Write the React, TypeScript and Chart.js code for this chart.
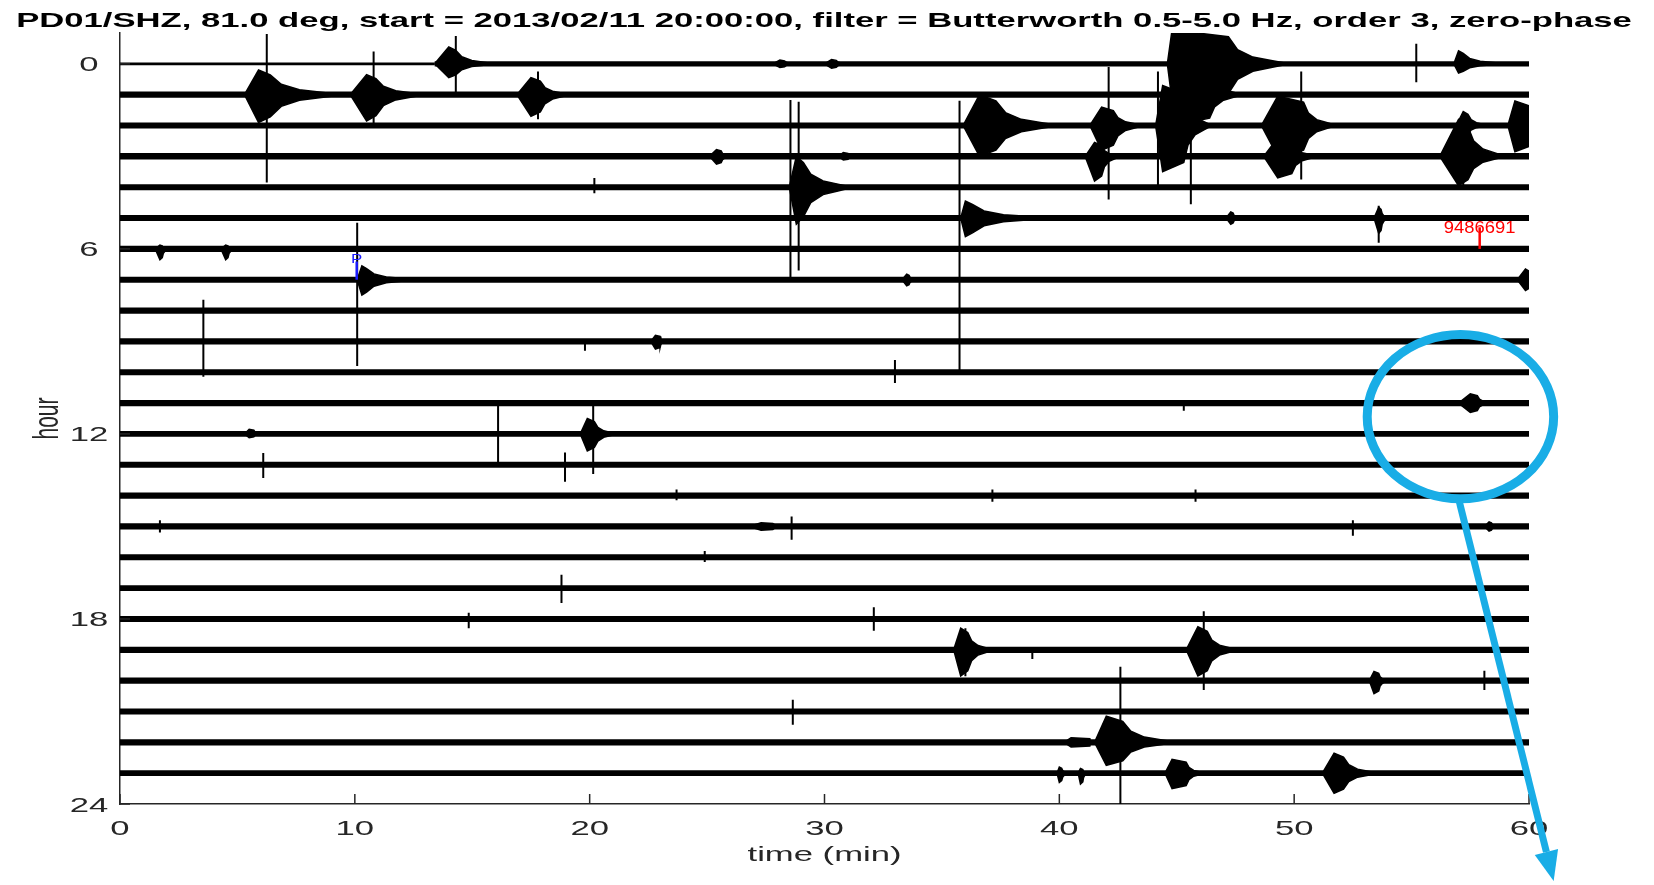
import React, { useEffect, useRef } from 'react';
import { Chart, registerables } from 'chart.js';

Chart.register(...registerables);

// ---------- text ----------
const TITLE = 'PD01/SHZ, 81.0 deg, start = 2013/02/11 20:00:00, filter = Butterworth 0.5-5.0 Hz, order 3, zero-phase';
const X_LABEL = 'time (min)';
const Y_LABEL = 'hour';

// ---------- axes ----------
const X_MIN = 0;
const X_MAX = 60;
const Y_MIN = -1;
const Y_MAX = 24;
const X_TICKS = [0, 10, 20, 30, 40, 50, 60];
const Y_TICKS = [0, 6, 12, 18, 24];

// ---------- traces (one per hour) ----------
const TRACE_HOURS = [0, 1, 2, 3, 4, 5, 6, 7, 8, 9, 10, 11, 12, 13, 14, 15, 16, 17, 18, 19, 20, 21, 22, 23];
// half amplitude of background noise of each trace, in hours
const ROW_NOISE = [0.085, 0.1, 0.1, 0.105, 0.095, 0.1, 0.1, 0.1, 0.1, 0.1, 0.1, 0.1,
  0.095, 0.095, 0.1, 0.1, 0.095, 0.095, 0.1, 0.1, 0.1, 0.1, 0.1, 0.095];
// quiet stretches: [hour, start min, end min, noise half amplitude]
const QUIET_SEGMENTS = [[0, 0, 13.4, 0.045]];

// ---------- events ----------
// bursts: [hour, onset min, peak min, hold min, end min, amplitude up (h), amplitude down (h)]
const BURSTS = [
  [0, 13.4, 14.0, 0.3, 16.0, 0.55, 0.45],
  [0, 27.8, 28.1, 0.2, 28.8, 0.12, 0.12],
  [0, 30.0, 30.3, 0.2, 31.0, 0.14, 0.14],
  [0, 44.6, 44.8, 2.4, 49.8, 1.1, 1.2],
  [0, 56.8, 57.0, 0.2, 59.0, 0.42, 0.3],
  [1, 5.3, 5.9, 0.5, 9.5, 0.8, 0.9],
  [1, 9.8, 10.5, 0.4, 13.0, 0.65, 0.85],
  [1, 16.9, 17.5, 0.4, 19.2, 0.55, 0.7],
  [1, 44.8, 45.2, 1.2, 47.8, 0.9, 0.95],
  [2, 35.9, 36.6, 0.7, 40.0, 1.0, 1.0],
  [2, 41.3, 41.8, 0.5, 43.6, 0.6, 0.8],
  [2, 44.1, 44.4, 0.9, 46.5, 1.3, 1.5],
  [2, 48.6, 49.3, 1.1, 51.8, 0.95, 1.0],
  [2, 56.9, 57.2, 0.2, 58.3, 0.45, 0.35],
  [2, 59.1, 59.4, 0.6, 60.0, 0.8, 0.85],
  [3, 25.1, 25.4, 0.2, 26.0, 0.22, 0.25],
  [3, 30.6, 30.8, 0.2, 31.4, 0.12, 0.12],
  [3, 41.1, 41.5, 0.3, 42.6, 0.45, 0.8],
  [3, 48.7, 49.3, 0.6, 51.0, 0.6, 0.7],
  [3, 56.2, 57.0, 0.4, 59.0, 1.2, 0.95],
  [4, 28.5, 28.8, 0.3, 31.2, 1.0, 1.2],
  [5, 35.8, 36.0, 0.3, 39.6, 0.55, 0.6],
  [5, 47.1, 47.3, 0.1, 47.7, 0.2, 0.2],
  [5, 53.4, 53.6, 0.1, 54.0, 0.35, 0.5],
  [6, 1.5, 1.7, 0.1, 2.1, 0.12, 0.35],
  [6, 4.3, 4.5, 0.1, 4.9, 0.12, 0.35],
  [7, 10.1, 10.3, 0.2, 12.6, 0.45, 0.5],
  [7, 33.3, 33.5, 0.1, 33.9, 0.18, 0.2],
  [7, 59.5, 59.85, 0.15, 60.0, 0.35, 0.35],
  [9, 22.6, 22.8, 0.2, 23.2, 0.2, 0.25],
  [11, 57.0, 57.5, 0.3, 58.4, 0.3, 0.3],
  [12, 5.3, 5.5, 0.2, 6.0, 0.15, 0.12],
  [12, 19.6, 19.9, 0.3, 21.2, 0.5, 0.55],
  [15, 26.8, 27.3, 0.5, 28.4, 0.12, 0.12],
  [15, 58.1, 58.3, 0.1, 58.7, 0.15, 0.15],
  [19, 35.5, 35.8, 0.3, 37.2, 0.7, 0.85],
  [19, 45.4, 45.9, 0.4, 47.6, 0.75, 0.85],
  [20, 53.2, 53.4, 0.2, 54.0, 0.3, 0.42],
  [22, 40.2, 40.5, 0.8, 41.4, 0.15, 0.15],
  [22, 41.5, 42.0, 0.7, 45.0, 0.85, 0.75],
  [23, 39.9, 40.0, 0.1, 40.4, 0.2, 0.3],
  [23, 40.8, 40.9, 0.1, 41.2, 0.15, 0.35],
  [23, 44.5, 44.8, 0.6, 46.2, 0.45, 0.5],
  [23, 51.2, 51.7, 0.4, 53.6, 0.65, 0.65],
];

// spikes: [hour, min, amplitude up (h), amplitude down (h)]
const SPIKES = [
  [0, 14.3, 0.9, 0.92],
  [0, 55.2, 0.65, 0.6],
  [1, 6.25, 1.97, 2.85],
  [1, 10.8, 1.4, 0.95],
  [1, 17.8, 0.75, 0.8],
  [2, 42.1, 1.9, 2.4],
  [2, 44.2, 1.75, 1.95],
  [2, 45.6, 3.1, 2.55],
  [2, 50.3, 1.75, 1.75],
  [3, 57.2, 1.4, 1.0],
  [4, 20.2, 0.3, 0.2],
  [4, 28.55, 2.83, 2.93],
  [4, 28.9, 2.77, 2.7],
  [5, 35.75, 3.8, 4.95],
  [5, 53.6, 0.4, 0.8],
  [7, 10.1, 1.85, 2.8],
  [9, 3.55, 1.35, 1.15],
  [9, 19.8, 0.05, 0.3],
  [10, 33.0, 0.4, 0.35],
  [11, 45.3, 0.05, 0.25],
  [12, 16.1, 0.95, 0.95],
  [12, 20.15, 0.95, 1.3],
  [13, 6.1, 0.38, 0.43],
  [13, 18.95, 0.4, 0.55],
  [14, 23.7, 0.2, 0.15],
  [14, 37.15, 0.2, 0.2],
  [14, 45.8, 0.2, 0.2],
  [15, 1.7, 0.2, 0.2],
  [15, 28.6, 0.32, 0.43],
  [15, 52.5, 0.2, 0.3],
  [16, 24.9, 0.2, 0.15],
  [17, 18.8, 0.43, 0.48],
  [18, 14.85, 0.2, 0.3],
  [18, 32.1, 0.38, 0.38],
  [19, 36.0, 0.7, 0.86],
  [19, 38.85, 0.05, 0.3],
  [19, 46.15, 1.25, 1.3],
  [20, 58.1, 0.32, 0.3],
  [21, 28.65, 0.38, 0.43],
  [22, 42.6, 2.45, 2.05],
];

// phase picks: [label, minute, hour of trace, top hour of marker, label hour]
const PHASE_PICKS = [['P', 10.08, 7, 6.41, 6.31]];
// event id markers: [label, minute, hour of trace, top hour of marker, label hour]
const EVENT_MARKS = [['9486691', 57.9, 6, 5.3, 5.3]];

// highlight annotation: ellipse centre (min, hour), radii (min, hour); arrow tip (min, hour)
const HIGHLIGHT_CENTER = [57.08, 11.44];
const HIGHLIGHT_RADII = [3.97, 2.66];
const ARROW_TIP = [61.05, 26.5];

// ---------- styles ----------
const FONT = '"Liberation Sans", Arial, Helvetica, sans-serif';
const AXIS_COLOR = '#262626';
const TRACE_COLOR = '#000000';
const HIGHLIGHT_COLOR = '#19ade6';
const TEXT_STRETCH = 1.65;

function noiseWidth(noise: number) {
  return (ctx: any) => {
    const y = ctx.chart.scales.y;
    if (!y) return 5;
    return Math.abs(y.getPixelForValue(2 * noise) - y.getPixelForValue(0));
  };
}

function buildTraceDatasets() {
  const out: any[] = [];
  TRACE_HOURS.forEach((h, i) => {
    const quiet = QUIET_SEGMENTS.filter((q) => q[0] === h);
    let cursor = X_MIN;
    const segs: number[][] = [];
    quiet.forEach((q) => {
      if (q[1] > cursor) segs.push([cursor, q[1], ROW_NOISE[i]]);
      segs.push([q[1], q[2], q[3]]);
      cursor = q[2];
    });
    if (cursor < X_MAX) segs.push([cursor, X_MAX, ROW_NOISE[i]]);
    segs.forEach((s) => {
      out.push({
        data: [{ x: s[0], y: h }, { x: s[1], y: h }],
        borderColor: TRACE_COLOR,
        borderWidth: noiseWidth(s[2]),
        borderCapStyle: 'butt',
        pointRadius: 0,
        fill: false,
      });
    });
  });
  return out;
}

function burstShape(b: number[]) {
  const [r, s, p, hold, e, up, dn] = b;
  const d0 = p + hold;
  const span = e - d0;
  return [
    { x: s, y: r },
    { x: p, y: r - up },
    { x: d0, y: r - up * 0.8 },
    { x: d0 + span * 0.15, y: r - up * 0.42 },
    { x: d0 + span * 0.4, y: r - up * 0.2 },
    { x: d0 + span * 0.7, y: r - up * 0.1 },
    { x: e, y: r },
    { x: d0 + span * 0.7, y: r + dn * 0.1 },
    { x: d0 + span * 0.4, y: r + dn * 0.2 },
    { x: d0 + span * 0.15, y: r + dn * 0.42 },
    { x: d0, y: r + dn * 0.8 },
    { x: p, y: r + dn },
    { x: s, y: r },
  ];
}

function buildBurstDatasets() {
  return BURSTS.map((b) => ({
    data: burstShape(b),
    borderColor: TRACE_COLOR,
    backgroundColor: TRACE_COLOR,
    borderWidth: 1.5,
    pointRadius: 0,
    fill: 'shape',
  }));
}

function buildSpikeDatasets() {
  return SPIKES.map(([r, m, up, dn]) => ({
    data: [{ x: m, y: r - up }, { x: m, y: r + dn }],
    borderColor: TRACE_COLOR,
    borderWidth: 2,
    pointRadius: 0,
    fill: false,
  }));
}

function stretchedText(ctx: CanvasRenderingContext2D, text: string, x: number, y: number, font: string,
  color: string, sx: number, align: CanvasTextAlign) {
  ctx.save();
  ctx.translate(x, y);
  ctx.scale(sx, 1);
  ctx.font = font;
  ctx.fillStyle = color;
  ctx.textAlign = align;
  ctx.textBaseline = 'alphabetic';
  ctx.fillText(text, 0, 0);
  ctx.restore();
}

const overlayPlugin = {
  id: 'helicorderOverlay',
  afterDraw(chart: any) {
    const { ctx, chartArea: a, scales } = chart;
    const xs = scales.x;
    const ys = scales.y;
    ctx.save();

    // inward ticks
    ctx.strokeStyle = AXIS_COLOR;
    ctx.lineWidth = 1.5;
    X_TICKS.forEach((v) => {
      const px = xs.getPixelForValue(v);
      ctx.beginPath();
      ctx.moveTo(px, a.bottom);
      ctx.lineTo(px, a.bottom - 10);
      ctx.stroke();
    });
    Y_TICKS.forEach((v) => {
      const py = ys.getPixelForValue(v);
      ctx.beginPath();
      ctx.moveTo(a.left, py);
      ctx.lineTo(a.left + 10, py);
      ctx.stroke();
    });

    // tick labels
    const tickFont = `21px ${FONT}`;
    X_TICKS.forEach((v) => {
      stretchedText(ctx, String(v), xs.getPixelForValue(v), a.bottom + 31, tickFont, AXIS_COLOR, TEXT_STRETCH, 'center');
    });
    Y_TICKS.forEach((v) => {
      stretchedText(ctx, String(v), a.left - 31, ys.getPixelForValue(v) + 7.5, tickFont, AXIS_COLOR, TEXT_STRETCH, 'center');
    });

    // axis titles
    stretchedText(ctx, X_LABEL, (a.left + a.right) / 2, a.bottom + 57, tickFont, AXIS_COLOR, TEXT_STRETCH, 'center');
    ctx.save();
    ctx.translate(a.left - 62, (a.top + a.bottom) / 2);
    ctx.scale(TEXT_STRETCH, 1);
    ctx.rotate(-Math.PI / 2);
    ctx.font = tickFont;
    ctx.fillStyle = AXIS_COLOR;
    ctx.textAlign = 'center';
    ctx.textBaseline = 'alphabetic';
    ctx.fillText(Y_LABEL, 0, 0);
    ctx.restore();

    // title
    stretchedText(ctx, TITLE, chart.width / 2 - 3, 27, `bold 21px ${FONT}`, '#000000', TEXT_STRETCH, 'center');

    // phase picks (blue)
    PHASE_PICKS.forEach(([label, m, row, top, lab]: any) => {
      const px = xs.getPixelForValue(m);
      ctx.strokeStyle = '#1a1aff';
      ctx.lineWidth = 2.5;
      ctx.beginPath();
      ctx.moveTo(px, ys.getPixelForValue(top));
      ctx.lineTo(px, ys.getPixelForValue(row));
      ctx.stroke();
      stretchedText(ctx, label, px, ys.getPixelForValue(lab) + 4.7, `13px ${FONT}`, '#1a1aff', 1.3, 'center');
    });

    // event marks (red)
    EVENT_MARKS.forEach(([label, m, row, top, lab]: any) => {
      const px = xs.getPixelForValue(m);
      stretchedText(ctx, label, px, ys.getPixelForValue(lab) + 5.8, `16px ${FONT}`, '#ff0000', 1.15, 'center');
      ctx.strokeStyle = '#ff0000';
      ctx.lineWidth = 2.5;
      ctx.beginPath();
      ctx.moveTo(px, ys.getPixelForValue(top));
      ctx.lineTo(px, ys.getPixelForValue(row));
      ctx.stroke();
    });

    // highlight ellipse + arrow
    const cx = xs.getPixelForValue(HIGHLIGHT_CENTER[0]);
    const cy = ys.getPixelForValue(HIGHLIGHT_CENTER[1]);
    const rx = Math.abs(xs.getPixelForValue(HIGHLIGHT_CENTER[0] + HIGHLIGHT_RADII[0]) - cx);
    const ry = Math.abs(ys.getPixelForValue(HIGHLIGHT_CENTER[1] + HIGHLIGHT_RADII[1]) - cy);
    ctx.strokeStyle = HIGHLIGHT_COLOR;
    ctx.fillStyle = HIGHLIGHT_COLOR;
    ctx.lineWidth = 9;
    ctx.beginPath();
    ctx.ellipse(cx, cy, rx, ry, 0, 0, Math.PI * 2);
    ctx.stroke();

    const sx0 = cx - 0.02 * rx;
    const sy0 = cy + ry;
    const tx = xs.getPixelForValue(ARROW_TIP[0]);
    const ty = ys.getPixelForValue(ARROW_TIP[1]);
    const ang = Math.atan2(ty - sy0, tx - sx0);
    const headLen = 30;
    const headHalf = 12;
    const bx = tx - headLen * Math.cos(ang);
    const by = ty - headLen * Math.sin(ang);
    ctx.lineWidth = 7;
    ctx.beginPath();
    ctx.moveTo(sx0, sy0);
    ctx.lineTo(bx, by);
    ctx.stroke();
    ctx.beginPath();
    ctx.moveTo(tx, ty);
    ctx.lineTo(bx + headHalf * Math.sin(ang), by - headHalf * Math.cos(ang));
    ctx.lineTo(bx - headHalf * Math.sin(ang), by + headHalf * Math.cos(ang));
    ctx.closePath();
    ctx.fill();

    ctx.restore();
  },
};

export default function App() {
  const canvasRef = useRef<HTMLCanvasElement | null>(null);

  useEffect(() => {
    const canvas = canvasRef.current;
    if (!canvas) return;
    const datasets = [...buildTraceDatasets(), ...buildBurstDatasets(), ...buildSpikeDatasets()];
    const chart = new Chart(canvas, {
      type: 'line',
      data: { datasets },
      options: {
        responsive: false,
        animation: false,
        devicePixelRatio: 1,
        events: [],
        layout: { padding: { left: 0, right: 125, top: 33, bottom: 0 } },
        plugins: {
          legend: { display: false },
          tooltip: { enabled: false },
          title: { display: false },
        },
        elements: { line: { tension: 0 } },
        scales: {
          x: {
            type: 'linear',
            min: X_MIN,
            max: X_MAX,
            grid: { display: false },
            border: { display: true, color: AXIS_COLOR, width: 1.5 },
            ticks: { display: false },
            afterBuildTicks: (s: any) => { s.ticks = X_TICKS.map((v) => ({ value: v })); },
            afterFit: (s: any) => { s.height = 81; },
          },
          y: {
            type: 'linear',
            reverse: true,
            min: Y_MIN,
            max: Y_MAX,
            grid: { display: false },
            border: { display: true, color: AXIS_COLOR, width: 1.5 },
            ticks: { display: false },
            afterBuildTicks: (s: any) => { s.ticks = Y_TICKS.map((v) => ({ value: v })); },
            afterFit: (s: any) => { s.width = 120; },
          },
        },
      } as any,
      plugins: [overlayPlugin],
    });
    return () => chart.destroy();
  }, []);

  return (
    <div style={{ position: 'fixed', left: 0, top: 0, width: 1654, height: 885, background: '#ffffff' }}>
      <canvas ref={canvasRef} width={1654} height={885} style={{ display: 'block' }} />
    </div>
  );
}
